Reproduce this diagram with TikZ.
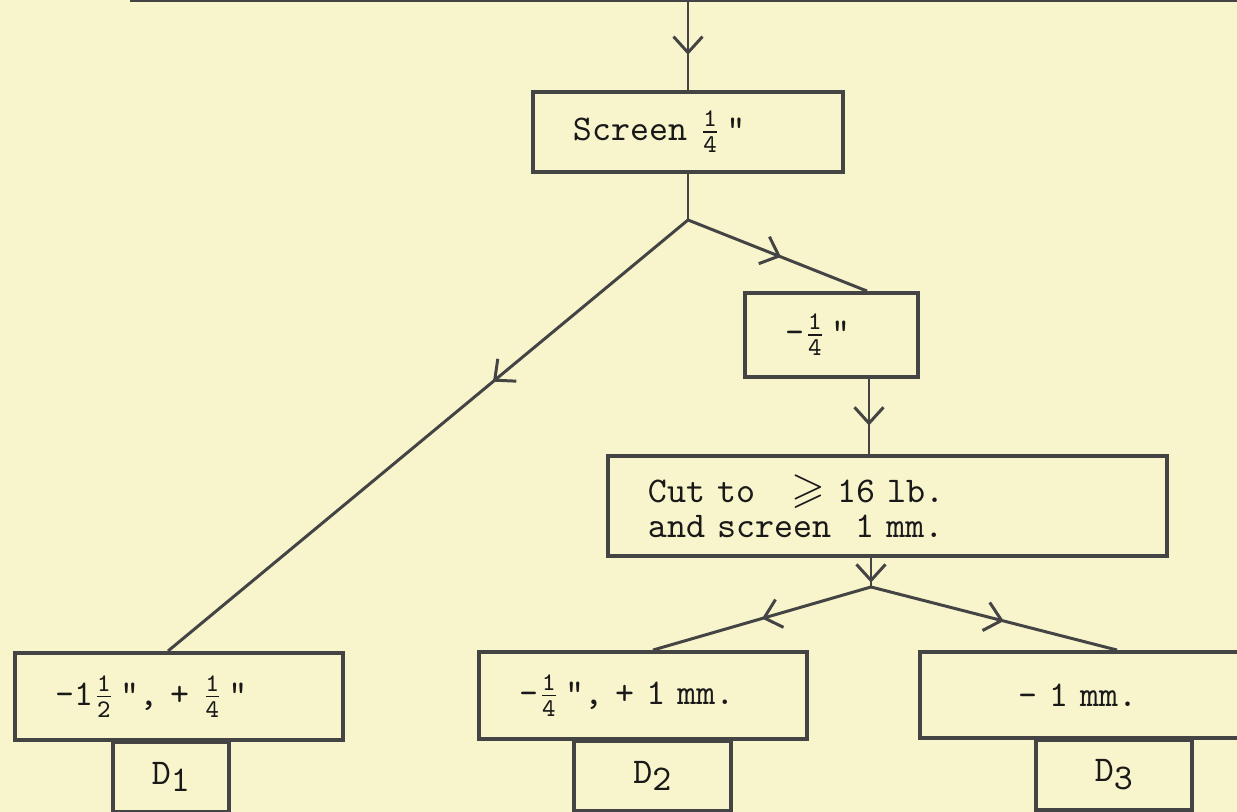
\documentclass[tikz,border=0pt]{standalone}
\usepackage{amsmath,amssymb}
\usetikzlibrary{arrows.meta,calc,decorations.markings}

\definecolor{paper}{RGB}{248,245,204}
\definecolor{ink}{RGB}{68,68,68}
\definecolor{typeink}{RGB}{25,25,25}

% typed fraction (with inch mark) and lowered index
\newcommand{\fr}[2]{\ensuremath{\frac{\texttt{#1}}{\texttt{#2}}}}
\newcommand{\inch}{\kern1.5pt"}
\newcommand{\dsub}[1]{\raisebox{-2.2pt}{#1}}

\begin{document}
\begin{tikzpicture}[
  x=1cm,
  y=1cm,
  font=\ttfamily\fontsize{10.3}{10}\selectfont,
  line/.style={draw=ink,line width=0.85pt},
  box/.style={line,line width=1.1pt,text=typeink,align=left,
              inner xsep=0.4cm,inner ysep=0pt},
  dbox/.style={line,line width=1.1pt,text=typeink,minimum height=0.70cm,anchor=north},
  flow/.style={line,postaction={decorate},
    decoration={markings,mark=at position #1 with
      {\arrow{Straight Barb[length=1.6mm,width=2.9mm,line width=0.85pt]}}}},
  flow/.default=0.5
]

\useasboundingbox (0,0) rectangle (12.37,8.12);
\fill[paper] (0,0) rectangle (12.37,8.12);
\clip (0,0) rectangle (12.37,8.12);

% =====================================================================
% boxes
% =====================================================================
\node[box,minimum width=11.6cm,minimum height=1cm,anchor=south west] (feed) at (1.30,8.10) {};

\node[box,text width=2.30cm,minimum height=0.80cm] (screen) at (6.88,6.80)
  {Screen \fr{1}{4}\inch};
\node[box,text width=0.93cm,minimum height=0.84cm] (quart) at (8.315,4.77)
  {-\fr{1}{4}\inch};
\node[box,text width=4.79cm,minimum height=1.00cm] (cut) at (8.875,3.06)
  {Cut to\ \ \ \scalebox{1.2}{$\geqslant$}\ 16 lb.\\and screen\ \ 1 mm.};

\node[box,text width=2.48cm,minimum height=0.87cm] (box1) at (1.79,1.155)
  {-1\fr{1}{2}\inch, + \fr{1}{4}\inch};
\node[box,text width=2.48cm,minimum height=0.87cm] (box2) at (6.43,1.165)
  {-\fr{1}{4}\inch, + 1 mm.};
\node[box,inner xsep=0.98cm,text width=1.54cm,minimum height=0.86cm] (box3) at (10.95,1.17)
  {- 1 mm.};

% fraction labels under the products
\node[dbox,minimum width=1.16cm] (d1) at (1.71,0.72)  {D\dsub{1}};
\node[dbox,minimum width=1.57cm] (d2) at (6.525,0.73) {D\dsub{2}};
\node[dbox,minimum width=1.56cm] (d3) at (11.14,0.74) {D\dsub{3}};

% =====================================================================
% flow lines
% =====================================================================
\coordinate (split1) at (6.88,5.92);
\coordinate (split2) at (8.71,2.25);

\draw[flow=0.6] (screen.north |- feed.south) -- (screen.north);
\draw[line] (screen.south) -- (split1);
\draw[flow=0.375] (split1) -- ([xshift=-1.1mm]box1.north);
\draw[flow=0.52] (split1) -- ([xshift=3.55mm]quart.north);
\draw[flow=0.62] ([xshift=3.75mm]quart.south) -- ([xshift=3.75mm]quart.south |- cut.north);
\draw[flow=0.85] (split2 |- cut.south) -- (split2);
\draw[flow] (split2) -- ([xshift=1mm]box2.north);
\draw[flow=0.54] (split2) -- ([xshift=2.2mm]box3.north);

\end{tikzpicture}
\end{document}
